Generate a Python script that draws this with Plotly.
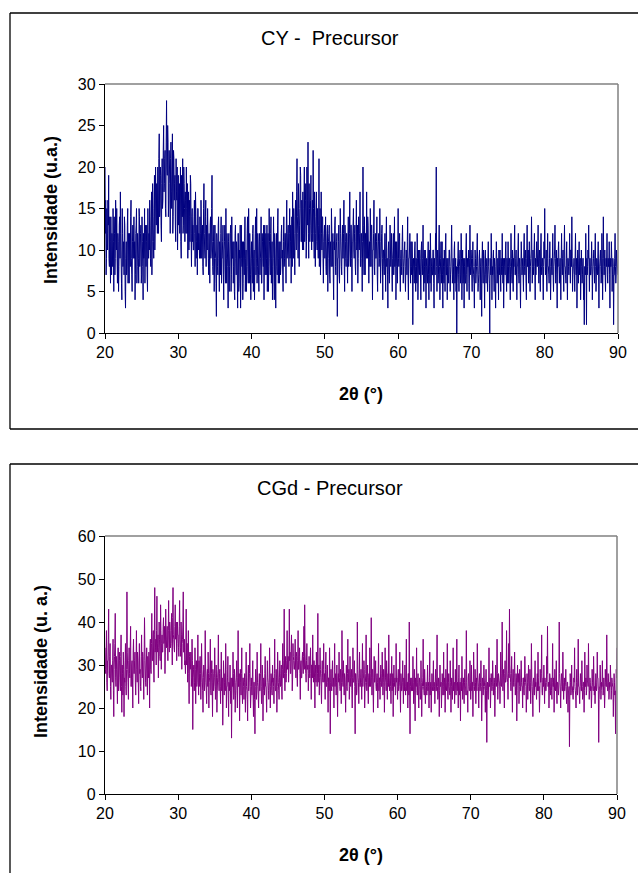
import plotly.graph_objects as go

# ---------------- data ----------------
# readings at 20.0, 20.1, ... 90.0 deg
scan_start = 20.0
scan_step = 0.1

cy_intensity = [
    20, 16, 9, 12, 16, 19, 8, 11, 14, 7,
    10, 15, 5, 12, 9, 13, 15, 6, 11, 8,
    14, 17, 9, 4, 12, 10, 7, 13, 3, 11,
    8, 15, 12, 6, 10, 14, 9, 5, 13, 11,
    9, 4, 12, 15, 8, 11, 6, 14, 10, 13,
    7, 11, 4, 9, 15, 12, 8, 13, 5, 10,
    12, 16, 9, 14, 7, 18, 11, 15, 10, 20,
    13, 17, 20, 12, 24, 15, 19, 11, 21, 16,
    25, 18, 22, 14, 28, 19, 23, 16, 20, 12,
    23, 17, 24, 14, 21, 18, 13, 21, 16, 10,
    19, 15, 12, 20, 9, 17, 21, 13, 18, 11,
    16, 20, 12, 9, 17, 14, 11, 18, 8, 15,
    13, 10, 16, 8, 14, 11, 7, 15, 12, 9,
    12, 16, 9, 13, 7, 18, 10, 14, 8, 11,
    15, 9, 12, 6, 14, 10, 19, 8, 11, 5,
    13, 9, 2, 11, 7, 14, 5, 10, 12, 6,
    9, 13, 4, 11, 8, 15, 6, 10, 3, 12,
    8, 12, 5, 14, 9, 6, 11, 4, 13, 7,
    10, 3, 12, 6, 9, 3, 13, 8, 4, 11,
    7, 14, 9, 5, 12, 8, 15, 6, 10, 4,
    11, 6, 13, 9, 4, 12, 7, 15, 8, 10,
    5, 12, 9, 14, 6, 11, 8, 4, 13, 10,
    7, 13, 10, 5, 15, 9, 12, 6, 11, 8,
    14, 4, 10, 3, 12, 7, 15, 9, 6, 11,
    8, 13, 10, 5, 14, 9, 12, 6, 16, 10,
    13, 8, 15, 11, 6, 14, 17, 9, 12, 7,
    16, 10, 21, 12, 18, 8, 15, 19, 11, 14,
    17, 10, 20, 13, 18, 11, 16, 23, 9, 15,
    13, 19, 10, 16, 22, 12, 17, 8, 14, 11,
    15, 9, 21, 12, 7, 17, 10, 14, 6, 12,
    9, 14, 7, 12, 5, 11, 13, 6, 10, 15,
    8, 12, 4, 10, 14, 7, 11, 2, 9, 13,
    6, 15, 10, 7, 13, 9, 16, 5, 11, 8,
    12, 6, 14, 10, 17, 8, 13, 5, 11, 15,
    9, 13, 7, 16, 11, 6, 14, 10, 17, 8,
    12, 5, 20, 10, 14, 7, 12, 17, 9, 13,
    6, 11, 15, 8, 13, 4, 10, 16, 7, 12,
    9, 14, 5, 11, 8, 15, 6, 10, 13, 4,
    10, 7, 12, 5, 14, 9, 3, 11, 6, 13,
    8, 12, 5, 10, 7, 14, 9, 4, 11, 6,
    15, 8, 12, 5, 10, 7, 13, 6, 9, 11,
    5, 10, 7, 14, 4, 9, 12, 6, 8, 11,
    1, 9, 6, 11, 5, 8, 12, 4, 10, 7,
    9, 4, 11, 7, 13, 5, 8, 10, 3, 9,
    6, 11, 4, 8, 12, 5, 9, 7, 10, 3,
    8, 12, 20, 5, 10, 7, 13, 4, 9, 6,
    11, 3, 8, 10, 5, 12, 7, 4, 9, 6,
    10, 5, 8, 13, 6, 9, 4, 11, 7, 5,
    0, 8, 11, 5, 9, 6, 12, 4, 10, 7,
    3, 9, 6, 12, 5, 8, 10, 4, 13, 7,
    9, 5, 11, 7, 3, 10, 6, 8, 12, 5,
    7, 10, 4, 9, 2, 11, 6, 8, 3, 10,
    6, 9, 5, 11, 7, 0, 8, 12, 4, 7,
    10, 5, 8, 3, 11, 6, 9, 4, 7, 10,
    5, 8, 12, 6, 3, 9, 7, 11, 5, 8,
    11, 6, 9, 4, 12, 7, 10, 5, 8, 13,
    7, 10, 4, 8, 12, 6, 9, 3, 11, 7,
    9, 5, 12, 7, 10, 4, 13, 8, 6, 11,
    5, 9, 14, 6, 10, 8, 12, 4, 7, 11,
    8, 13, 6, 10, 5, 12, 7, 9, 4, 11,
    15, 7, 10, 5, 12, 8, 6, 11, 4, 9,
    7, 12, 5, 9, 13, 6, 10, 3, 8, 11,
    6, 9, 4, 12, 7, 10, 5, 13, 8, 6,
    11, 4, 9, 7, 12, 6, 10, 14, 5, 8,
    9, 5, 12, 7, 3, 10, 6, 11, 8, 4,
    10, 6, 9, 4, 1, 8, 12, 1, 7, 10,
    13, 5, 9, 7, 11, 4, 8, 10, 6, 12,
    5, 9, 7, 11, 3, 8, 10, 6, 12, 4,
    14, 7, 10, 5, 9, 12, 6, 8, 11, 3,
    8, 11, 5, 9, 1, 7, 12, 6, 10, 8,
    7,
]

# readings at 20.05, 20.15, ... 89.95 deg
cy_intensity_mid = [
    12, 7, 15, 10, 13, 9, 14, 6, 10, 12,
    8, 11, 14, 7, 16, 10, 9, 12, 5, 13,
    9, 12, 6, 15, 8, 11, 14, 5, 9, 7,
    13, 6, 10, 12, 8, 16, 7, 11, 9, 14,
    11, 7, 13, 6, 12, 9, 15, 8, 12, 6,
    14, 8, 12, 10, 6, 13, 11, 7, 15, 9,
    10, 13, 8, 17, 11, 14, 9, 19, 13, 16,
    18, 12, 16, 21, 14, 20, 13, 18, 15, 22,
    17, 21, 15, 23, 20, 25, 14, 22, 18, 21,
    15, 20, 12, 22, 16, 19, 11, 17, 20, 14,
    13, 18, 16, 11, 19, 14, 12, 20, 15, 17,
    12, 15, 18, 13, 10, 16, 19, 12, 14, 11,
    10, 14, 12, 17, 9, 13, 15, 10, 11, 14,
    9, 13, 11, 8, 15, 12, 9, 16, 13, 10,
    12, 7, 10, 13, 9, 15, 11, 7, 13, 9,
    10, 6, 12, 8, 13, 9, 11, 7, 14, 9,
    11, 7, 10, 13, 6, 9, 12, 8, 11, 5,
    10, 13, 7, 9, 11, 8, 5, 12, 9, 11,
    7, 12, 5, 10, 13, 7, 9, 11, 6, 9,
    11, 5, 10, 8, 14, 6, 10, 12, 7, 9,
    8, 12, 5, 10, 8, 14, 9, 6, 12, 7,
    11, 7, 10, 6, 12, 9, 13, 10, 7, 12,
    9, 5, 12, 8, 11, 7, 14, 9, 4, 10,
    9, 12, 7, 10, 8, 13, 6, 11, 10, 7,
    12, 9, 7, 11, 8, 12, 10, 13, 9, 12,
    10, 12, 9, 13, 10, 8, 12, 15, 10, 14,
    12, 17, 14, 9, 15, 13, 20, 11, 16, 10,
    12, 15, 11, 16, 9, 20, 13, 12, 18, 11,
    16, 12, 14, 11, 15, 9, 14, 12, 17, 10,
    11, 13, 8, 15, 10, 12, 14, 9, 11, 13,
    11, 8, 10, 13, 9, 12, 7, 11, 8, 12,
    10, 7, 11, 13, 8, 10, 12, 9, 11, 7,
    10, 12, 8, 11, 9, 12, 8, 13, 9, 12,
    9, 11, 8, 12, 10, 13, 9, 11, 13, 10,
    12, 8, 11, 10, 13, 9, 11, 12, 8, 12,
    9, 11, 13, 7, 10, 12, 9, 11, 14, 10,
    10, 8, 11, 13, 9, 10, 12, 8, 11, 9,
    11, 7, 10, 12, 9, 11, 8, 12, 9, 10,
    8, 10, 9, 11, 8, 7, 10, 8, 9, 10,
    10, 7, 9, 12, 9, 8, 11, 8, 9, 10,
    9, 11, 7, 9, 8, 11, 9, 8, 10, 7,
    8, 9, 11, 7, 9, 10, 8, 11, 7, 9,
    7, 8, 10, 8, 9, 6, 9, 7, 8, 10,
    7, 10, 8, 9, 7, 10, 6, 9, 8, 7,
    9, 7, 10, 6, 9, 8, 7, 10, 6, 9,
    7, 10, 8, 9, 6, 10, 8, 7, 11, 8,
    7, 9, 6, 8, 10, 7, 9, 8, 7, 10,
    8, 7, 10, 9, 7, 8, 10, 6, 9, 8,
    6, 9, 7, 8, 10, 7, 9, 8, 6, 9,
    8, 6, 10, 7, 9, 8, 6, 9, 8, 10,
    7, 9, 8, 6, 8, 9, 7, 10, 8, 6,
    9, 7, 8, 6, 9, 8, 10, 7, 9, 7,
    8, 7, 9, 8, 6, 9, 7, 9, 8, 9,
    7, 9, 6, 8, 9, 7, 8, 10, 8, 7,
    9, 7, 8, 9, 7, 8, 10, 7, 9, 6,
    8, 9, 7, 8, 9, 6, 8, 9, 10, 7,
    9, 7, 8, 10, 7, 9, 6, 8, 9, 8,
    7, 10, 8, 9, 6, 9, 8, 10, 8, 7,
    8, 10, 9, 8, 7, 10, 8, 9, 9, 8,
    10, 8, 9, 7, 10, 8, 9, 7, 8, 9,
    9, 8, 7, 9, 8, 7, 9, 8, 7, 8,
    9, 7, 8, 10, 9, 8, 7, 9, 10, 8,
    8, 7, 9, 8, 9, 7, 10, 8, 7, 9,
    7, 9, 8, 9, 8, 10, 8, 9, 7, 8,
    7, 9, 8, 9, 7, 8, 9, 7, 9, 7,
    8, 7, 9, 6, 8, 7, 8, 9, 8, 9,
    8, 9, 7, 8, 9, 7, 9, 8, 9, 8,
    7, 8, 9, 7, 8, 9, 8, 7, 9, 8,
    9, 8, 7, 9, 8, 7, 9, 8, 7, 9,
    8, 9, 7, 8, 7, 9, 8, 7, 9, 8,
]

cgd_intensity = [
    34, 28, 38, 24, 31, 43, 27, 35, 22, 30,
    26, 36, 18, 32, 42, 25, 29, 21, 34, 27,
    31, 24, 37, 19, 28, 33, 18, 26, 35, 23,
    47, 29, 22, 34, 27, 39, 25, 31, 20, 36,
    28, 33, 23, 38, 26, 31, 21, 35, 29, 24,
    37, 27, 32, 22, 41, 30, 25, 34, 23, 29,
    33, 20, 36, 28, 42, 31, 38, 26, 48, 34,
    30, 46, 35, 27, 40, 32, 44, 29, 37, 33,
    41, 36, 28, 43, 34, 39, 31, 45, 33, 38,
    35, 42, 30, 48, 36, 33, 44, 38, 31, 40,
    37, 32, 45, 34, 40, 29, 36, 47, 33, 30,
    28, 43, 35, 26, 38, 21, 33, 30, 25, 36,
    15, 29, 24, 34, 21, 31, 26, 37, 23, 28,
    32, 22, 35, 27, 19, 30, 24, 38, 26, 21,
    29, 33, 20, 27, 36, 23, 31, 18, 28, 25,
    34, 22, 30, 19, 27, 37, 24, 29, 21, 33,
    26, 16, 31, 23, 28, 35, 20, 25, 32, 18,
    24, 30, 21, 13, 27, 33, 22, 29, 19, 26,
    31, 20, 38, 25, 17, 29, 23, 34, 21, 27,
    22, 28, 19, 33, 24, 17, 30, 26, 35, 20,
    27, 23, 31, 18, 26, 14, 29, 22, 33, 25,
    20, 28, 24, 35, 21, 30, 17, 27, 23, 32,
    25, 19, 31, 26, 22, 34, 20, 28, 24, 30,
    27, 21, 36, 24, 29, 19, 33, 26, 22, 31,
    25, 30, 22, 35, 27, 43, 24, 32, 28, 38,
    30, 26, 43, 33, 28, 37, 24, 35, 31, 29,
    36, 27, 32, 25, 38, 29, 34, 22, 31, 27,
    33, 28, 39, 44, 30, 26, 35, 29, 24, 32,
    27, 34, 22, 30, 37, 26, 31, 20, 28, 33,
    25, 42, 29, 23, 34, 27, 21, 31, 26, 35,
    28, 22, 33, 25, 30, 19, 27, 34, 14, 29,
    24, 31, 26, 20, 35, 27, 23, 30, 18, 28,
    33, 25, 29, 21, 38, 26, 31, 23, 27, 19,
    30, 24, 36, 27, 22, 32, 25, 29, 20, 34,
    26, 31, 14, 28, 23, 40, 27, 21, 33, 25,
    29, 22, 35, 27, 31, 20, 26, 37, 24, 30,
    21, 28, 34, 25, 41, 23, 29, 19, 32, 26,
    31, 24, 28, 20, 35, 27, 22, 30, 25, 33,
    23, 29, 19, 34, 26, 31, 22, 28, 37, 24,
    28, 21, 32, 25, 18, 30, 26, 23, 35, 27,
    22, 29, 25, 33, 19, 27, 24, 31, 21, 26,
    30, 23, 36, 26, 20, 28, 40, 14, 27, 24,
    25, 32, 21, 29, 17, 26, 34, 23, 28, 20,
    27, 22, 31, 18, 25, 36, 24, 29, 21, 26,
    23, 30, 26, 20, 33, 25, 19, 28, 24, 31,
    26, 21, 29, 24, 37, 22, 27, 18, 30, 25,
    20, 28, 23, 33, 26, 19, 29, 24, 35, 22,
    28, 24, 31, 19, 27, 22, 34, 25, 21, 29,
    23, 36, 26, 20, 30, 24, 17, 27, 32, 22,
    27, 21, 29, 25, 38, 23, 19, 28, 24, 31,
    22, 30, 26, 18, 33, 25, 29, 21, 27, 35,
    26, 20, 28, 24, 31, 17, 27, 23, 30, 25,
    19, 29, 12, 26, 22, 34, 25, 20, 28, 24,
    31, 23, 27, 18, 30, 25, 36, 22, 28, 26,
    21, 33, 25, 40, 24, 29, 20, 31, 26, 38,
    27, 22, 35, 43, 28, 24, 32, 19, 29, 25,
    33, 23, 28, 17, 30, 26, 21, 29, 24, 31,
    25, 20, 27, 23, 32, 26, 19, 28, 22, 30,
    24, 29, 21, 35, 25, 18, 27, 23, 31, 26,
    22, 28, 33, 24, 19, 29, 26, 37, 23, 27,
    30, 21, 26, 24, 32, 39, 25, 20, 28, 23,
    27, 22, 35, 25, 19, 29, 24, 31, 21, 26,
    23, 40, 26, 20, 28, 24, 33, 22, 27, 25,
    29, 21, 26, 19, 24, 11, 28, 23, 30, 25,
    22, 27, 34, 24, 20, 29, 23, 36, 25, 21,
    28, 24, 31, 22, 26, 19, 33, 25, 23, 30,
    26, 35, 22, 27, 24, 20, 29, 25, 32, 23,
    21, 28, 24, 33, 27, 12, 25, 30, 22, 26,
    31, 23, 27, 20, 29, 25, 37, 24, 28, 22,
    26, 30, 22, 27, 25, 18, 28, 23, 14, 29,
    34,
]

cgd_intensity_mid = [
    29, 33, 26, 31, 36, 28, 32, 25, 30, 27,
    31, 24, 29, 35, 27, 32, 26, 30, 24, 33,
    27, 32, 25, 30, 23, 29, 27, 31, 25, 29,
    33, 26, 31, 28, 34, 25, 30, 27, 33, 28,
    31, 26, 30, 29, 33, 26, 30, 28, 25, 32,
    29, 33, 27, 31, 34, 26, 30, 28, 32, 27,
    30, 34, 29, 35, 31, 36, 30, 37, 33, 36,
    38, 33, 37, 34, 36, 31, 38, 35, 33, 39,
    35, 39, 33, 37, 36, 34, 38, 36, 40, 34,
    38, 35, 41, 37, 34, 39, 36, 40, 35, 37,
    34, 39, 36, 32, 37, 35, 40, 33, 36, 31,
    33, 30, 35, 31, 28, 32, 29, 33, 27, 31,
    27, 30, 26, 29, 28, 25, 30, 27, 31, 25,
    28, 26, 29, 24, 27, 29, 26, 30, 24, 28,
    25, 28, 26, 30, 24, 28, 26, 29, 24, 27,
    28, 25, 27, 24, 29, 26, 28, 25, 27, 24,
    27, 23, 28, 26, 24, 29, 25, 27, 23, 26,
    26, 24, 27, 23, 25, 28, 24, 26, 23, 27,
    24, 27, 25, 28, 23, 26, 28, 24, 27, 25,
    26, 23, 27, 25, 22, 27, 24, 28, 25, 23,
    25, 27, 23, 26, 22, 25, 27, 24, 26, 23,
    26, 24, 28, 25, 23, 27, 24, 26, 28, 25,
    23, 26, 27, 24, 26, 28, 25, 27, 23, 26,
    25, 28, 26, 24, 27, 25, 29, 24, 27, 26,
    28, 25, 29, 27, 31, 28, 30, 26, 31, 29,
    32, 29, 31, 28, 33, 30, 27, 32, 29, 31,
    30, 33, 28, 31, 29, 32, 28, 30, 27, 31,
    30, 32, 29, 33, 28, 31, 29, 30, 28, 29,
    31, 28, 30, 27, 29, 31, 27, 30, 26, 29,
    28, 26, 30, 27, 29, 25, 28, 27, 29, 26,
    26, 29, 25, 28, 26, 27, 24, 28, 26, 25,
    28, 25, 27, 29, 25, 28, 26, 24, 27, 26,
    27, 24, 28, 26, 29, 25, 27, 28, 24, 26,
    25, 28, 26, 29, 25, 27, 28, 24, 27, 26,
    27, 25, 28, 26, 24, 29, 26, 28, 25, 27,
    26, 28, 25, 27, 29, 24, 28, 26, 27, 25,
    27, 25, 28, 26, 27, 29, 24, 27, 26, 28,
    25, 27, 26, 28, 24, 27, 26, 28, 25, 27,
    26, 28, 25, 27, 24, 28, 26, 25, 27, 26,
    25, 27, 24, 28, 26, 25, 27, 24, 26, 25,
    27, 24, 26, 25, 28, 24, 26, 25, 27, 24,
    25, 27, 24, 26, 28, 23, 26, 25, 24, 27,
    24, 26, 25, 23, 27, 25, 24, 26, 23, 26,
    25, 23, 26, 24, 27, 25, 23, 26, 24, 25,
    26, 24, 25, 27, 23, 26, 24, 25, 27, 24,
    25, 26, 24, 27, 25, 23, 26, 24, 25, 26,
    24, 26, 25, 23, 27, 24, 26, 25, 23, 26,
    25, 23, 26, 25, 24, 27, 24, 26, 25, 24,
    26, 24, 25, 27, 23, 26, 25, 24, 26, 25,
    24, 26, 25, 23, 26, 24, 27, 25, 24, 26,
    25, 24, 26, 25, 27, 24, 26, 25, 24, 27,
    25, 27, 24, 26, 25, 23, 26, 25, 27, 24,
    26, 24, 25, 23, 26, 25, 27, 24, 26, 25,
    27, 25, 26, 24, 27, 26, 28, 25, 27, 26,
    25, 28, 26, 29, 27, 25, 28, 26, 27, 29,
    26, 28, 27, 30, 26, 28, 25, 27, 26, 28,
    26, 25, 27, 24, 26, 28, 25, 27, 24, 26,
    25, 27, 24, 26, 28, 25, 23, 26, 25, 27,
    24, 26, 25, 27, 23, 26, 24, 27, 25, 24,
    26, 24, 27, 25, 23, 26, 28, 24, 26, 25,
    25, 27, 24, 26, 28, 25, 26, 24, 27, 25,
    24, 26, 25, 27, 24, 26, 25, 23, 26, 24,
    26, 28, 24, 25, 27, 24, 26, 25, 24, 26,
    25, 23, 26, 24, 25, 22, 26, 24, 25, 23,
    24, 26, 25, 23, 26, 24, 27, 25, 23, 25,
    26, 24, 25, 23, 26, 24, 25, 27, 24, 26,
    25, 27, 24, 26, 25, 23, 26, 24, 27, 25,
    24, 26, 25, 27, 24, 22, 25, 26, 24, 25,
    26, 24, 25, 23, 26, 25, 27, 24, 26, 24,
    25, 27, 24, 26, 25, 23, 26, 24, 22, 27,
]

x_ticks = [20, 30, 40, 50, 60, 70, 80, 90]
y_ticks_cy = [0, 5, 10, 15, 20, 25, 30]
y_ticks_cgd = [0, 10, 20, 30, 40, 50, 60]

title_cy = "CY -\u00a0 Precursor"
title_cgd = "CGd - Precursor"
x_title = "<b>2θ (°)</b>"
y_title_cy = "<b>Intensidade (u.a.)</b>"
y_title_cgd = "<b>Intensidade (u. a.)</b>"


def merge_scan(main_vals, mid_vals):
    """Interleave readings taken at the whole steps and at the half steps."""
    xs, ys = [], []
    for i, v in enumerate(main_vals):
        xs.append(round(scan_start + scan_step * i, 3))
        ys.append(v)
        if i < len(mid_vals):
            xs.append(round(scan_start + scan_step * (i + 0.5), 3))
            ys.append(mid_vals[i])
    return xs, ys


cy_x, cy_y = merge_scan(cy_intensity, cy_intensity_mid)
cgd_x, cgd_y = merge_scan(cgd_intensity, cgd_intensity_mid)

# ---------------- layout helpers (page pixel -> paper fraction) ----------------
W, H = 638, 873


def fx(px):
    return min(max(px / W, 0.0), 1.0)


def fy(py):
    return min(max(1 - py / H, 0.0), 1.0)


FONT = "Liberation Sans, Arial, sans-serif"

fig = go.Figure()
fig.add_trace(go.Scatter(x=cy_x, y=cy_y, mode="lines",
                         line=dict(color="#000080", width=1, simplify=False),
                         xaxis="x", yaxis="y", showlegend=False, hoverinfo="skip"))
fig.add_trace(go.Scatter(x=cgd_x, y=cgd_y, mode="lines",
                         line=dict(color="#800080", width=1, simplify=False),
                         xaxis="x2", yaxis="y2", showlegend=False, hoverinfo="skip"))

# plot areas in page px
top = dict(l=105, r=618, t=84, b=333)
bot = dict(l=105, r=617, t=536, b=794)

axis_common = dict(showline=True, linecolor="black", linewidth=1.3, ticks="outside",
                   ticklen=5, tickcolor="black", tickwidth=1.3, showgrid=False,
                   zeroline=False, tickfont=dict(family=FONT, size=16, color="black"),
                   fixedrange=True)

# size comes from the page div (638 x 873, pinned to the window's top-left corner)
fig.update_layout(
    autosize=True, margin=dict(l=0, r=0, t=0, b=0, autoexpand=False),
    paper_bgcolor="white", plot_bgcolor="white",
    xaxis=dict(domain=[fx(top["l"]), fx(top["r"])], range=[20, 90], tickvals=x_ticks,
               anchor="y", **axis_common),
    yaxis=dict(domain=[fy(top["b"]), fy(top["t"])], range=[0, 30], tickvals=y_ticks_cy,
               anchor="x", **axis_common),
    xaxis2=dict(domain=[fx(bot["l"]), fx(bot["r"])], range=[20, 90], tickvals=x_ticks,
                anchor="y2", **axis_common),
    yaxis2=dict(domain=[fy(bot["b"]), fy(bot["t"])], range=[0, 60], tickvals=y_ticks_cgd,
                anchor="x2", **axis_common),
)

shapes = []
def seg(x0, y0, x1, y1, color, width):
    shapes.append(dict(type="line", xref="paper", yref="paper", x0=fx(x0), x1=fx(x1),
                       y0=fy(y0), y1=fy(y1), line=dict(color=color, width=width)))

# outer chart frames (their right / bottom sides lie outside the page)
seg(10, 13, 638, 13, "black", 1.3)
seg(10, 13, 10, 429, "black", 1.3)
seg(10, 429, 638, 429, "black", 1.3)
seg(10, 464, 638, 464, "black", 1.3)
seg(10, 464, 10, 873, "black", 1.3)
# grey top and right border of plot areas
for p in (top, bot):
    seg(p["l"], p["t"], p["r"], p["t"], "#808080", 1.5)
    seg(p["r"], p["t"], p["r"], p["b"], "#808080", 1.5)
fig.update_layout(shapes=shapes)

ann = []
def text(x, y, s, size, angle=0):
    ann.append(dict(x=fx(x), y=fy(y), xref="paper", yref="paper", text=s, showarrow=False,
                    xanchor="center", yanchor="middle", textangle=angle,
                    font=dict(family=FONT, size=size, color="black")))

text(330, 38, title_cy, 20)
text(330, 488, title_cgd, 20)
text(361, 394, x_title, 18)
text(361, 855, x_title, 18)
text(51, 210, y_title_cy, 18, -90)
text(41, 662, y_title_cgd, 18, -90)
fig.update_layout(annotations=ann)

fig.write_html("out.html",
               default_width="638px; position:absolute; left:0px; top:0px",
               default_height="873px",
               post_script="document.body.style.margin='0';document.body.style.overflow='hidden';")
